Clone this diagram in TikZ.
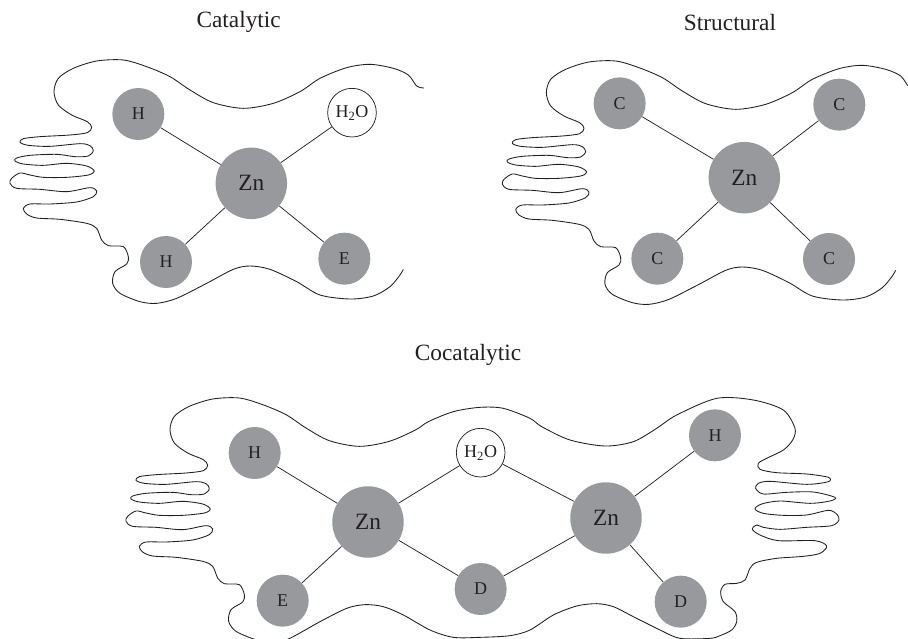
\documentclass[tikz,border=0pt]{standalone}
\usepackage{fontspec}
\setmainfont{Liberation Serif}
\tikzset{
  atom/.style={circle,inner sep=0pt,minimum size=39pt,fill=atomgrey,text=inkdark,font=\fontsize{13.5}{15}\selectfont},
  zinc/.style={circle,inner sep=0pt,minimum size=53.6pt,fill=atomgrey,text=inkdark,font=\fontsize{17.5}{20}\selectfont},
  water/.style={circle,inner sep=0pt,minimum size=36.5pt,draw=inkdark,line width=.55pt,fill=white,text=inkdark,font=\fontsize{13.5}{15}\selectfont},
  bond/.style={draw=inkdark,line width=.55pt},
  outline/.style={draw=inkdark,line width=.65pt,line join=round},
  heading/.style={anchor=base,text=inkdark,font=\fontsize{17.5}{20}\selectfont}
}
\definecolor{atomgrey}{HTML}{97999C}
\definecolor{inkdark}{HTML}{231F20}
% Open protein chain with its finger-like loops on the left
\newcommand{\openchain}[1]{%
  \draw[outline,shift={#1}] plot[smooth,tension=.5] coordinates {
    (1272,264)(1250,258)(1225,225)(1180,205)(1110,193)(1040,203)(960,235)(900,275)(820,310)(730,325)
    (640,308)(570,270)(510,230)(440,200)(370,180)(290,183)(220,205)(175,235)(162,275)(175,315)
    (215,345)(262,365)(275,382)(262,398)(210,405)(120,410)(70,416)(60,427)(85,436)(150,439)
    (240,431)(270,437)(280,452)(265,468)(225,470)(170,463)(90,466)(50,474)(45,483)(70,492)
    (130,496)(200,490)(260,498)(283,513)(265,525)(200,532)(130,532)(90,525)(60,519)(35,535)
    (30,550)(50,565)(120,568)(200,575)(270,563)(290,573)(280,590)(230,606)(150,612)(90,612)
    (70,625)(80,642)(110,654)(180,658)(260,670)(290,685)(305,720)(325,737)(370,740)(385,770)
    (380,792)(345,815)(338,850)(360,880)(420,905)(470,910)(530,895)(620,850)(700,808)(750,798)
    (810,808)(890,845)(960,885)(1050,897)(1120,888)(1170,860)(1200,825)(1210,808)
  };%
}
\begin{document}
\begin{tikzpicture}[x=.25pt,y=-.25pt]
\clip (0,0) rectangle (2724,1917);

% Catalytic site
\node[heading] (titleA) at (716,82) {Catalytic};
\openchain{(0,0)}
\node[atom] (a1) at (415,342) {H};
\node[water] (a2) at (1056,338) {H\textsubscript{2}O};
\node[zinc] (az) at (754,550) {Zn};
\node[atom] (a3) at (498,786) {H};
\node[atom] (a4) at (1033,776) {E};
\draw[bond] (a1) -- (az);
\draw[bond] (a2) -- (az);
\draw[bond] (a3) -- (az);
\draw[bond] (a4) -- (az);

% Structural site
\node[heading] (titleB) at (2190,92) {Structural};
\openchain{(1477,3)}
\node[atom] (b1) at (1859,310) {C};
\node[atom] (b2) at (2518,314) {C};
\node[zinc] (bz) at (2233,533) {Zn};
\node[atom] (b3) at (1972,776) {C};
\node[atom] (b4) at (2487,777) {C};
\draw[bond] (b1) -- (bz);
\draw[bond] (b2) -- (bz);
\draw[bond] (b3) -- (bz);
\draw[bond] (b4) -- (bz);

% Cocatalytic site: closed chain around two zinc ions
\node[heading] (titleC) at (1404,1082) {Cocatalytic};
\draw[outline] plot[smooth cycle,tension=.5] coordinates {
  (1248,1289)(1168,1324)(1078,1339)(988,1322)(918,1284)(858,1244)(788,1214)(718,1194)(638,1197)(568,1219)
  (523,1249)(510,1289)(523,1329)(563,1359)(610,1379)(623,1396)(610,1412)(558,1419)(468,1424)(418,1430)
  (408,1441)(433,1450)(498,1453)(588,1445)(618,1451)(628,1466)(613,1482)(573,1484)(518,1477)(438,1480)
  (398,1488)(393,1497)(418,1506)(478,1510)(548,1504)(608,1512)(631,1527)(613,1539)(548,1546)(478,1546)
  (438,1539)(408,1533)(383,1549)(378,1564)(398,1579)(468,1582)(548,1589)(618,1577)(638,1587)(628,1604)
  (578,1620)(498,1626)(438,1626)(418,1639)(428,1656)(458,1668)(528,1672)(608,1684)(638,1699)(653,1734)
  (673,1751)(718,1754)(733,1784)(728,1806)(693,1829)(686,1864)(708,1894)(768,1919)(818,1924)(865,1917)
  (960,1865)(1040,1825)(1095,1814)(1150,1820)(1210,1845)(1290,1890)(1360,1912)(1440,1912)(1530,1907)(1590,1890)
  (1660,1845)(1730,1818)(1790,1811)(1840,1820)(1900,1850)(1980,1890)(2040,1915)(2130,1915)(2160,1907)(2195,1890)
  (2210,1865)(2205,1835)(2170,1805)(2162,1775)(2175,1753)(2210,1750)(2235,1740)(2250,1705)(2270,1687)(2330,1675)
  (2410,1669)(2460,1660)(2480,1638)(2445,1622)(2335,1622)(2280,1605)(2257,1588)(2270,1575)(2290,1582)(2340,1588)
  (2420,1582)(2495,1577)(2517,1560)(2510,1542)(2485,1531)(2420,1545)(2350,1546)(2290,1540)(2265,1527)(2285,1512)
  (2340,1503)(2430,1510)(2490,1503)(2505,1492)(2440,1476)(2360,1477)(2290,1482)(2267,1465)(2275,1450)(2310,1444)
  (2420,1453)(2485,1445)(2485,1432)(2420,1422)(2330,1418)(2280,1408)(2275,1390)(2300,1375)(2350,1350)(2378,1320)
  (2385,1285)(2350,1230)(2260,1200)(2150,1195)(2030,1245)(1970,1285)(1900,1325)(1815,1338)(1710,1320)(1625,1280)
  (1590,1255)(1510,1225)(1440,1222)(1360,1235)(1285,1265)
};
\node[atom] (c1) at (764,1359) {H};
\node[zinc] (cz) at (1104,1566) {Zn};
\node[atom] (c2) at (848,1802) {E};
\node[water] (cw) at (1442,1358) {H\textsubscript{2}O};
\node[atom] (c3) at (1442,1767) {D};
\node[zinc] (dz) at (1818,1554) {Zn};
\node[atom] (c4) at (2145,1306) {H};
\node[atom] (c5) at (2042,1805) {D};
\draw[bond] (c1) -- (cz);
\draw[bond] (c2) -- (cz);
\draw[bond] (cw) -- (cz);
\draw[bond] (c3) -- (cz);
\draw[bond] (cw) -- (dz);
\draw[bond] (c3) -- (dz);
\draw[bond] (c4) -- (dz);
\draw[bond] (c5) -- (dz);
\end{tikzpicture}
\end{document}
